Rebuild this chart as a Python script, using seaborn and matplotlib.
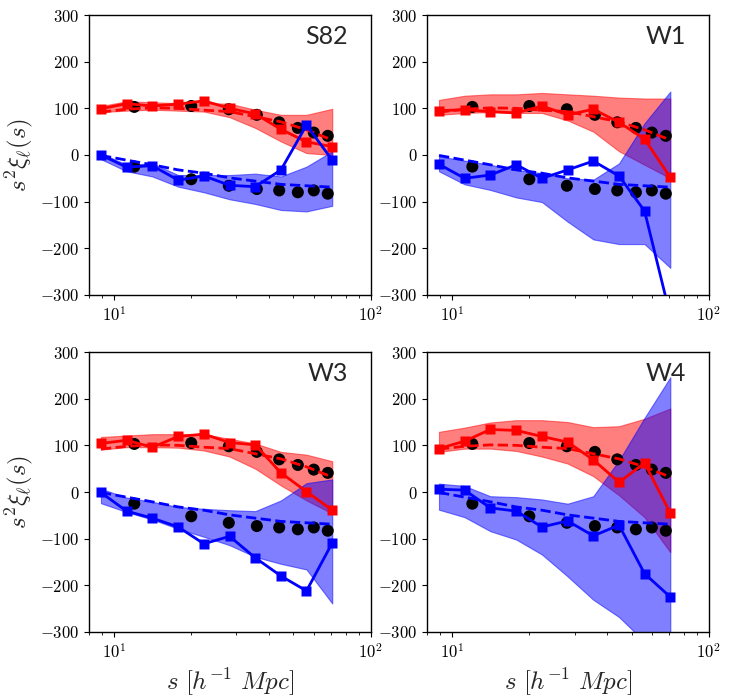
"""
Multipoles of the two-point correlation function in four survey fields.
"""
import numpy as np
import matplotlib
matplotlib.use("Agg")
import matplotlib.pyplot as plt
import seaborn as sns

# separation bins
s_model = [8.9, 11.2, 14.1, 17.8, 22.4, 28.2, 35.5, 44.7, 56.2, 70.8]
s_ref = [12, 20, 28, 36, 44, 52, 60, 68]

# reference measurement (black dots), same in every panel
ref_mono = [103, 105, 98, 86, 70, 58, 48, 41]
ref_quad = [-25, -52, -66, -73, -76, -80, -76, -83]

# model curves (dashed)
model_mono = [92, 98, 101, 100, 96, 93, 82, 71, 54, 32]
model_quad = [-1, -11, -21, -32, -39, -49, -56, -63, -66, -69]

fields = ["S82", "W1", "W3", "W4"]

# per-field monopole / quadrupole (squares)
mono = {
    "S82": [99, 110, 105, 109, 116, 100, 88, 55, 28, 18],
    "W1": [95, 97, 93, 90, 105, 86, 98, 70, 34, -48],
    "W3": [104, 111, 96, 119, 124, 106, 101, 41, 1, -39],
    "W4": [93, 109, 134, 132, 119, 107, 69, 21, 62, -45],
}
quad = {
    "S82": [0, -26, -23, -54, -45, -65, -68, -32, 64, -11],
    "W1": [-20, -50, -43, -21, -50, -32, -13, -45, -120, -345],
    "W3": [-1, -41, -56, -75, -111, -95, -141, -180, -212, -109],
    "W4": [6, 4, -34, -41, -75, -62, -94, -71, -175, -225],
}

# scatter bands from mocks
mono_hi = {
    "S82": [105, 115, 113, 111, 111, 110, 97, 86, 86, 99],
    "W1": [118, 127, 130, 130, 133, 130, 127, 123, 121, 121],
    "W3": [118, 121, 124, 124, 124, 114, 104, 86, 80, 66],
    "W4": [129, 138, 149, 154, 154, 150, 139, 141, 157, 179],
}
mono_lo = {
    "S82": [92, 95, 97, 95, 93, 81, 58, 29, 4, 0],
    "W1": [86, 90, 92, 90, 90, 74, 50, 8, -21, -50],
    "W3": [91, 96, 96, 95, 89, 76, 50, 14, -18, -46],
    "W4": [86, 93, 93, 88, 76, 61, 34, -7, -54, -129],
}
quad_hi = {
    "S82": [4, -21, -18, -43, -43, -43, -40, -46, -25, 8],
    "W1": [-3, -12, -21, -32, -39, -50, -53, -18, 68, 136],
    "W3": [7, -12, -21, -32, -36, -39, -41, -18, 19, 27],
    "W4": [18, 13, -9, -11, -16, -25, -9, 68, 159, 246],
}
quad_lo = {
    "S82": [-9, -35, -46, -68, -80, -95, -105, -118, -121, -109],
    "W1": [-35, -63, -75, -91, -101, -143, -181, -191, -191, -242],
    "W3": [-24, -43, -59, -79, -96, -114, -139, -154, -166, -239],
    "W4": [-38, -54, -84, -102, -134, -181, -231, -268, -321, -360],
}

sns.set_style("ticks")
plt.rcParams["font.family"] = "serif"
plt.rcParams["font.serif"] = ["cmr10"]
plt.rcParams["mathtext.fontset"] = "cm"
plt.rcParams["axes.formatter.use_mathtext"] = True
plt.rcParams["axes.unicode_minus"] = True
plt.rcParams["axes.edgecolor"] = "black"
plt.rcParams["xtick.color"] = "black"
plt.rcParams["ytick.color"] = "black"

fig, axes = plt.subplots(2, 2, figsize=(7.3, 6.98), dpi=100)
fig.subplots_adjust(left=0.122, right=0.971, top=0.9785, bottom=0.0946,
                    wspace=0.2, hspace=0.204)

for ax, name in zip(axes.flat, fields):
    ax.set_xscale("log")
    ax.fill_between(s_model, mono_lo[name], mono_hi[name], color="red",
                    alpha=0.5, linewidth=0.8)
    ax.fill_between(s_model, quad_lo[name], quad_hi[name], color="blue",
                    alpha=0.5, linewidth=0.8)
    sns.scatterplot(x=s_ref, y=ref_mono, ax=ax, color="black", s=75,
                    edgecolor="none", zorder=3)
    sns.scatterplot(x=s_ref, y=ref_quad, ax=ax, color="black", s=75,
                    edgecolor="none", zorder=3)
    sns.lineplot(x=s_model, y=model_mono, ax=ax, color="red", linestyle="--",
                 linewidth=2, zorder=4)
    sns.lineplot(x=s_model, y=model_quad, ax=ax, color="blue", linestyle="--",
                 linewidth=2, zorder=4)
    sns.lineplot(x=s_model, y=mono[name], ax=ax, color="red", marker="s",
                 markersize=7, markeredgecolor="none", linewidth=2, zorder=5)
    sns.lineplot(x=s_model, y=quad[name], ax=ax, color="blue", marker="s",
                 markersize=7, markeredgecolor="none", linewidth=2, zorder=5)

    ax.set_xlim(8, 100)
    ax.set_ylim(-300, 300)
    ax.set_yticks([-300, -200, -100, 0, 100, 200, 300])
    ax.tick_params(labelsize=12)
    ax.text(0.92, 0.925, name, transform=ax.transAxes, ha="right",
            va="center", fontsize=18, family="Lato")
    ax.set_xlabel("")
    ax.set_ylabel("")
    for sp in ax.spines.values():
        sp.set_linewidth(1.0)

for ax in axes[:, 0]:
    ax.set_ylabel(r"$s^2\xi_\ell(s)$", fontsize=18)
for ax in axes[1, :]:
    ax.set_xlabel(r"$s\ [h^{-1}\ Mpc]$", fontsize=18)

fig.savefig("out.png", dpi=100)
